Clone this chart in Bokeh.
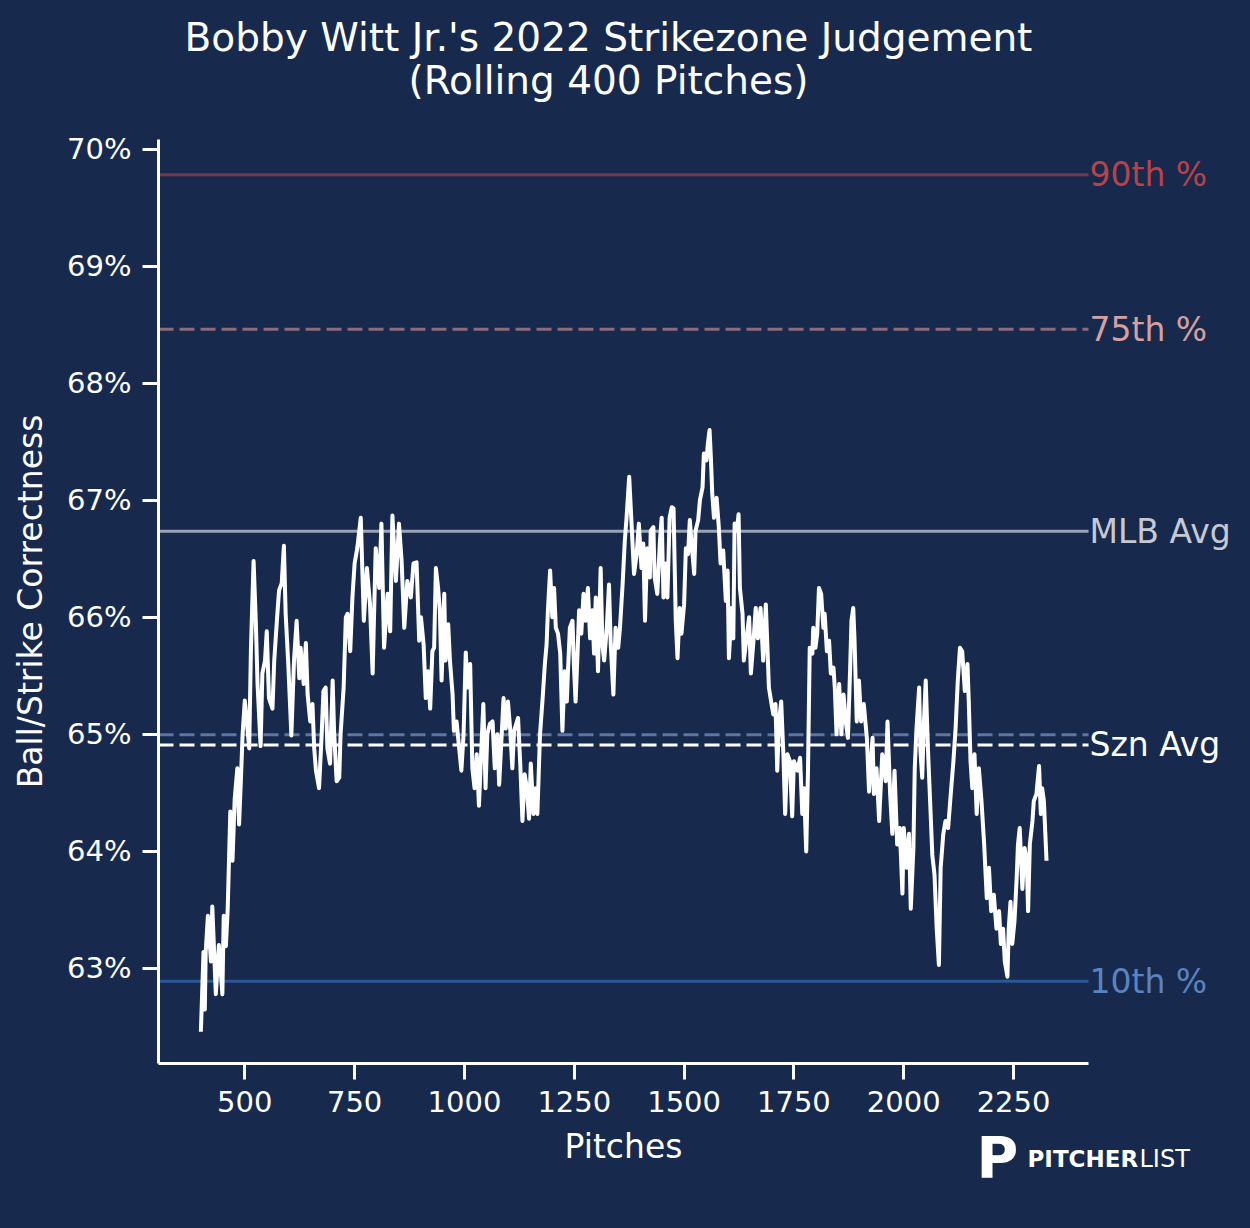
from bokeh.plotting import figure
from bokeh.models import Label, FixedTicker, PrintfTickFormatter, ColumnDataSource, LinearAxis, Grid
from bokeh.embed import file_html
from bokeh.resources import INLINE

BG = "#172a4e"

pitches = [400,406,409,411,416,423,426,434,441,449,452,457,461,467,472,477,483,487,491,495,
500,506,510,514,520,525,529,536,540,546,550,555,563,567,573,578,584,589,593,599,
606,612,618,624,627,634,639,643,649,654,658,662,669,675,679,684,688,694,700,703,
709,715,718,725,730,734,740,745,750,756,764,771,778,785,791,798,806,811,817,825,
831,836,844,851,857,863,870,878,884,891,897,
901,907,912,917,922,927,931,935,940,944,948,954,957,963,967,973,976,982,988,993,
998,1003,1007,1013,1018,1023,1028,1033,1037,1043,1048,1052,1058,1064,1069,1075,1079,1084,1089,1094,
1099,1104,1109,1113,1122,1127,1132,1137,1142,1147,1151,1157,1162,1166,1172,1178,1183,1187,1190,1195,
1200,1204,1208,1213,1218,1223,1228,1233,1236,1240,1246,1249,1253,1257,1261,1266,1271,1276,1281,1286,
1291,1295,1299,1304,1310,1314,1318,1324,1329,1333,1339,1344,1350,1354,1360,1365,1369,1375,1380,1386,
1392,1397,1403,1407,1411,1416,1422,
1424,1430,1433,1439,1445,1449,1453,1458,1462,1467,1472,1476,1481,1485,1490,1494,1500,1504,1509,1513,
1517,1523,1526,1532,1536,1542,1545,1551,1554,1558,1561,1564,1568,1574,1579,1583,1589,1595,1599,1602,
1608,1612,1615,1620,1624,1627,1633,1636,1642,1648,1652,1658,1663,1668,1674,1680,1686,1690,1693,1699,
1703,1708,1712,1716,1721,1726,1730,1735,1741,1746,1750,1758,1764,1769,1773,1778,1782,1786,1792,1794,
1799,1803,1807,1812,1817,1820,1825,1830,1834,1840,1843,1847,1853,1858,1863,1868,1873,1878,1881,1885,
1888,1893,1898,1903,1909,1916,1921,
1929,1932,1938,1944,1951,1959,1963,1969,1974,1979,1985,1991,1997,2000,2007,2012,2016,2022,2025,2029,
2035,2038,2042,2046,2050,2055,2060,2065,2070,2075,2080,2084,2090,2095,2101,2107,2113,2118,2123,2128,
2133,2139,2145,2148,2152,2156,2161,2166,2171,2177,2183,2189,2194,2199,2205,2211,2217,2221,2226,2230,
2236,2239,2243,2247,2252,2257,2260,2264,2270,2275,2280,2283,2287,2293,2296,2302,2308,2312,2315,2319,2325]

correctness = [62.46,63.14,62.65,63.14,63.45,63.06,63.53,62.78,63.2,62.78,63.45,63.19,63.5,64.34,63.92,64.45,64.71,64.23,64.6,65.0,
65.29,65.05,64.88,65.74,66.48,65.97,65.43,64.9,65.52,65.63,65.88,65.31,65.22,65.63,65.97,66.23,66.29,66.61,66.03,65.6,
64.99,65.63,65.97,65.48,65.74,65.43,65.78,65.34,65.11,65.26,64.88,64.69,64.54,65.0,65.37,65.4,64.88,64.75,65.46,65.05,
64.6,64.63,65.0,65.4,66.0,66.03,65.71,66.17,66.46,66.59,66.85,65.97,66.42,66.11,65.52,66.59,66.25,66.8,65.74,66.2,
65.88,66.87,66.31,66.8,66.48,65.91,66.31,66.17,66.46,66.47,65.8,
66.0,65.77,65.31,65.54,65.22,65.71,65.74,66.42,66.25,66.06,65.46,66.2,65.63,65.94,65.63,65.34,65.03,65.11,64.88,64.69,
65.0,65.7,65.4,65.6,64.71,64.54,64.83,64.39,64.75,65.26,64.54,65.0,65.09,65.11,64.71,65.0,64.57,64.94,65.31,65.05,
65.28,65.05,64.71,65.03,65.14,64.75,64.26,64.66,64.54,64.28,64.75,64.32,64.54,64.32,65.0,65.31,65.6,65.77,66.06,66.4,
66.0,66.25,65.91,65.86,65.69,65.03,65.54,65.28,65.57,65.91,65.97,65.6,65.28,65.65,66.06,65.86,66.2,65.97,66.25,65.82,
66.06,65.69,66.17,65.54,66.42,65.77,65.63,65.91,66.28,65.77,65.34,65.91,65.74,65.91,66.28,66.65,66.85,67.2,66.83,66.37,
66.54,66.8,66.42,66.63,65.97,66.59,66.34,
66.74,66.77,66.34,66.2,66.65,66.85,66.17,66.46,66.17,66.85,66.94,66.93,65.97,65.65,66.08,65.86,66.11,66.59,66.54,66.83,
66.63,66.37,66.74,66.83,67.0,67.11,67.4,67.34,67.48,67.6,67.36,67.06,66.85,67.02,66.77,66.46,66.57,66.14,66.4,65.65,
66.08,65.82,66.8,66.74,66.88,66.25,66.03,65.63,65.82,66.0,65.52,65.8,66.08,65.82,66.08,65.63,66.11,65.71,65.4,65.26,
65.17,65.26,64.69,65.11,65.28,64.83,64.32,64.83,64.77,64.3,64.77,64.69,64.8,64.32,64.54,64.0,64.69,65.74,65.69,65.91,
65.74,65.86,66.25,66.2,65.91,66.03,65.71,65.8,65.52,65.57,65.4,65.0,65.43,65.0,65.34,65.11,64.97,65.57,65.97,66.08,
65.8,65.11,65.46,65.11,65.26,64.97,64.51,
64.97,64.49,64.71,64.26,64.83,64.6,65.11,64.49,64.15,64.69,64.06,64.2,63.64,64.2,63.86,64.15,63.51,64.03,64.71,65.05,
65.4,64.86,64.63,65.11,65.46,64.88,64.43,63.97,63.8,63.34,63.03,63.86,64.15,64.26,64.2,64.49,64.77,65.05,65.46,65.74,
65.71,65.37,65.6,65.28,64.77,64.54,64.83,64.32,64.71,64.43,64.06,63.6,63.86,63.49,63.63,63.34,63.49,63.21,63.34,63.06,
62.93,63.34,63.57,63.21,63.4,63.77,64.06,64.2,63.68,64.03,63.92,63.49,64.06,64.26,64.43,64.49,64.73,64.32,64.54,64.43,63.92]

# reference lines
ref_names = ["90th %", "75th %", "MLB Avg", "", "Szn Avg", "10th %"]
ref_values = [69.78, 68.46, 66.735, 64.996, 64.91, 62.89]
ref_line_colors = ["#7b3545", "#8c6b7b", "#9ba3b4", "#5b76a1", "#ffffff", "#2b5797"]
ref_text_colors = ["#b54448", "#d6a09f", "#c4c9d4", "#5b76a1", "#ffffff", "#5a84bf"]
ref_dashes = ["solid", "15 6", "solid", "15 6", "15 6", "solid"]

x_ticks = [500, 750, 1000, 1250, 1500, 1750, 2000, 2250]
y_ticks = [63, 64, 65, 66, 67, 68, 69, 70]

title_lines = ["Bobby Witt Jr.'s 2022 Strikezone Judgement", "(Rolling 400 Pitches)"]

FONT = "DejaVu Sans"
W, H = 1250, 1228
# axes extents (data)
X0, X1 = 303.6, 2420.6
Y0, Y1 = 62.1884, 70.0811
# whole canvas is the frame; the axes are drawn at fixed locations with bounds
XR = (-56.1, 2789.3)
YR = (60.779, 71.2685)

p = figure(width=W, height=H, output_backend="svg", toolbar_location=None,
           x_range=XR, y_range=YR, x_axis_location=None, y_axis_location=None,
           min_border=0)
p.background_fill_color = BG
p.border_fill_color = BG
p.outline_line_color = None

xaxis = LinearAxis(fixed_location=Y0, bounds=(X0, X1), ticker=FixedTicker(ticks=x_ticks),
                   axis_label="Pitches")
yaxis = LinearAxis(fixed_location=X0, bounds=(Y0, Y1), ticker=FixedTicker(ticks=y_ticks),
                   formatter=PrintfTickFormatter(format="%d%%"),
                   axis_label="Ball/Strike Correctness")
for ax in (xaxis, yaxis):
    ax.axis_line_color = "white"
    ax.axis_line_width = 3
    ax.major_tick_line_color = "white"
    ax.major_tick_line_width = 3
    ax.major_tick_out = 16
    ax.major_tick_in = 0
    ax.minor_tick_line_color = None
    ax.major_label_text_color = "white"
    ax.major_label_text_font = FONT
    ax.major_label_text_font_size = "29px"
    ax.axis_label_text_color = "white"
    ax.axis_label_text_font = FONT
    ax.axis_label_text_font_size = "33px"
    ax.axis_label_text_font_style = "normal"
xaxis.major_label_standoff = 11
yaxis.major_label_standoff = 11
xaxis.axis_label_standoff = 12
yaxis.axis_label_standoff = 14
p.add_layout(xaxis, "below")
p.add_layout(yaxis, "left")

for r in list(p.center) + list(p.renderers):
    if isinstance(r, Grid):
        r.visible = False
p.grid.visible = False

for name, v, lc, tc, dash in zip(ref_names, ref_values, ref_line_colors, ref_text_colors, ref_dashes):
    p.segment(x0=[X0], x1=[X1], y0=[v], y1=[v], line_color=lc, line_width=3, line_dash=dash)
    if name:
        p.add_layout(Label(x=1089, x_units="screen", y=v, text=name, text_color=tc,
                           text_font=FONT, text_font_size="33px", text_baseline="middle",
                           text_align="left"))

src = ColumnDataSource(dict(pitch=pitches, pct=correctness))
p.line("pitch", "pct", source=src, line_color="white", line_width=4, line_join="round")

# title
for txt, ty in zip(title_lines, [H - 37, H - 80]):
    p.add_layout(Label(x=608, y=ty, x_units="screen", y_units="screen", text=txt,
                       text_color="white", text_font=FONT, text_font_size="39px",
                       text_align="center", text_baseline="middle"))

# logo
p.add_layout(Label(x=976, y=H - 1157, x_units="screen", y_units="screen", text="P", text_color="white",
                   text_font=FONT, text_font_style="bold", text_font_size="57px",
                   text_align="left", text_baseline="middle"))
p.add_layout(Label(x=1027, y=H - 1158, x_units="screen", y_units="screen", text="PITCHER",
                   text_color="white", text_font=FONT, text_font_style="bold", text_font_size="23px",
                   text_align="left", text_baseline="middle"))
p.add_layout(Label(x=1139, y=H - 1158, x_units="screen", y_units="screen", text="LIST",
                   text_color="white", text_font=FONT, text_font_size="24px",
                   text_align="left", text_baseline="middle"))

html = file_html(p, INLINE)
html = html.replace("</head>", "<style>html,body{background:%s;margin:0;}</style></head>" % BG, 1)
open("out.html", "w").write(html)
